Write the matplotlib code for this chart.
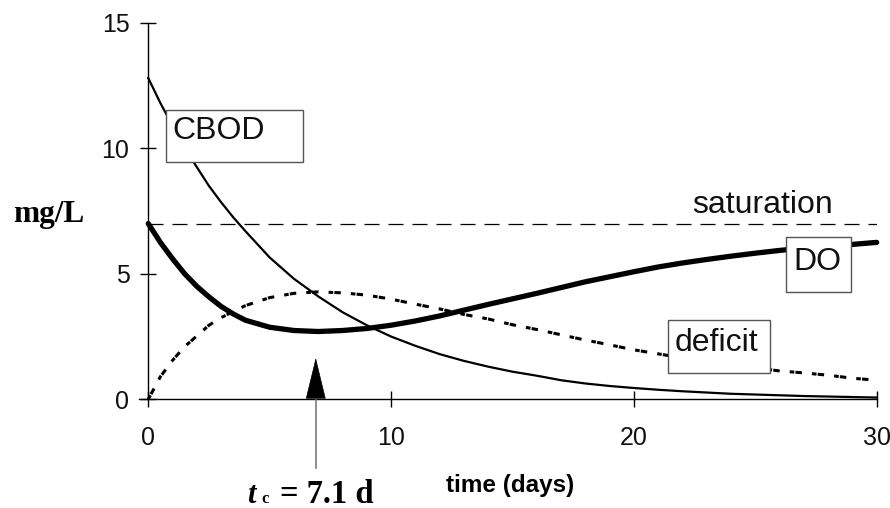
import matplotlib
matplotlib.use("Agg")
import matplotlib.pyplot as plt
from matplotlib.patches import Rectangle

# ---- data ----
t = [0, 0.5, 1, 1.5, 2, 2.5, 3, 3.5, 4, 5, 6, 7, 8, 9, 10, 11, 12, 13, 14, 15,
     16, 17, 18, 19, 20, 21, 22, 23, 24, 25, 26, 27, 28, 29, 30]
cbod = [12.8, 11.8, 10.9, 10.0, 9.25, 8.5, 7.85, 7.25, 6.7, 5.65, 4.8, 4.1, 3.47,
        2.95, 2.5, 2.13, 1.8, 1.53, 1.3, 1.1, 0.94, 0.76, 0.63, 0.53, 0.45, 0.38,
        0.32, 0.27, 0.22, 0.19, 0.16, 0.13, 0.11, 0.09, 0.07]
do = [7.0, 6.25, 5.6, 5.0, 4.5, 4.08, 3.7, 3.4, 3.15, 2.87, 2.74, 2.7, 2.74, 2.82,
      2.95, 3.12, 3.32, 3.55, 3.78, 4.0, 4.22, 4.45, 4.68, 4.88, 5.08, 5.27, 5.43,
      5.57, 5.7, 5.82, 5.93, 6.02, 6.1, 6.17, 6.25]
deficit = [0.0, 0.9, 1.55, 2.1, 2.52, 2.95, 3.25, 3.5, 3.73, 4.05, 4.22, 4.28, 4.24,
           4.15, 3.99, 3.79, 3.6, 3.38, 3.2, 2.97, 2.78, 2.57, 2.36, 2.17, 1.97,
           1.81, 1.65, 1.5, 1.37, 1.25, 1.13, 1.05, 0.96, 0.84, 0.76]
saturation = 7.0
t_crit = 6.9
xticks = [0, 10, 20, 30]
yticks = [0, 5, 10, 15]

W, H = 890, 508
fig = plt.figure(figsize=(W / 100, H / 100), dpi=100)
ax = fig.add_axes([139 / W, 1 - 399.3 / H, (876.7 - 139) / W, (399.3 - 22.7) / H])
ax.set_xlim(-0.38, 30)
ax.set_ylim(0, 15)

for s in ("top", "right"):
    ax.spines[s].set_visible(False)
ax.spines["left"].set_position(("data", 0))
for s in ("left", "bottom"):
    ax.spines[s].set_linewidth(1.0)
    ax.spines[s].set_color("black")

ax.set_xticks(xticks)
ax.set_yticks(yticks)
ax.tick_params(axis="both", direction="inout", length=12, width=1.0,
               labelsize=18, labelcolor="#111111")
ax.tick_params(axis="y", pad=7.5)
ax.tick_params(axis="x", pad=13.5)
for lab in ax.get_xticklabels() + ax.get_yticklabels():
    lab.set_fontfamily("Liberation Sans")

# curves
ax.plot([0, 30], [saturation, saturation], color="black", lw=0.9,
        linestyle=(0, (12, 7.2)), zorder=2)
ax.plot(t, cbod, color="black", lw=1.6, zorder=3, clip_on=False)
ax.plot(t, deficit, color="black", lw=2.2, linestyle=(0, (1.5, 0.4, 2.1, 3.3)),
        zorder=3, clip_on=False)
ax.plot(t, do, color="black", lw=3.8, zorder=3, solid_capstyle="round",
        clip_on=False)

# critical-time arrow
ax.plot([t_crit, t_crit], [-2.74, 0.08], color="#707070", lw=1.1, clip_on=False,
        zorder=4)
ax.annotate("", xy=(t_crit, 1.65), xytext=(t_crit, 0.08),
            arrowprops=dict(arrowstyle="-|>,head_length=2.8,head_width=0.68",
                            color="black", lw=0.5, shrinkA=0, shrinkB=0),
            zorder=4)

# boxed labels
def boxed(x0, x1, y0, y1, tx, ty, s):
    ax.add_patch(Rectangle((x0, y0), x1 - x0, y1 - y0, facecolor="white",
                           edgecolor="#555555", lw=1.0, zorder=5))
    ax.text(tx, ty, s, fontsize=23, family="Liberation Sans", va="baseline",
            ha="left", zorder=6, color="#111111")

boxed(0.73, 6.39, 9.44, 11.54, 1.0, 10.35, "CBOD")
boxed(26.28, 28.93, 4.29, 6.45, 26.55, 5.16, "DO")
boxed(21.41, 25.62, 1.06, 3.16, 21.68, 1.93, "deficit")
ax.text(22.42, 7.42, "saturation", fontsize=23, family="Liberation Sans",
        va="baseline", ha="left", color="#111111")

# axis titles
fig.text(12.7 / W, 1 - 221.7 / H, "mg/L", fontsize=22.5, family="Liberation Serif",
         weight="bold", va="baseline", ha="left")
fig.text(446 / W, 1 - 491.7 / H, "time (days)", fontsize=17.5,
         family="Liberation Sans", weight="bold", va="baseline", ha="left")
fig.text(246.7 / W, 1 - 502.7 / H, "t", fontsize=22, family="Liberation Serif",
         weight="bold", style="italic", va="baseline", ha="left")
fig.text(261.7 / W, 1 - 503.0 / H, "c", fontsize=12, family="Liberation Serif",
         weight="bold", va="baseline", ha="left")
fig.text(280 / W, 1 - 502.7 / H, "= 7.1 d", fontsize=23.5, family="Liberation Serif",
         weight="bold", va="baseline", ha="left")

fig.savefig("out.png", dpi=100)
